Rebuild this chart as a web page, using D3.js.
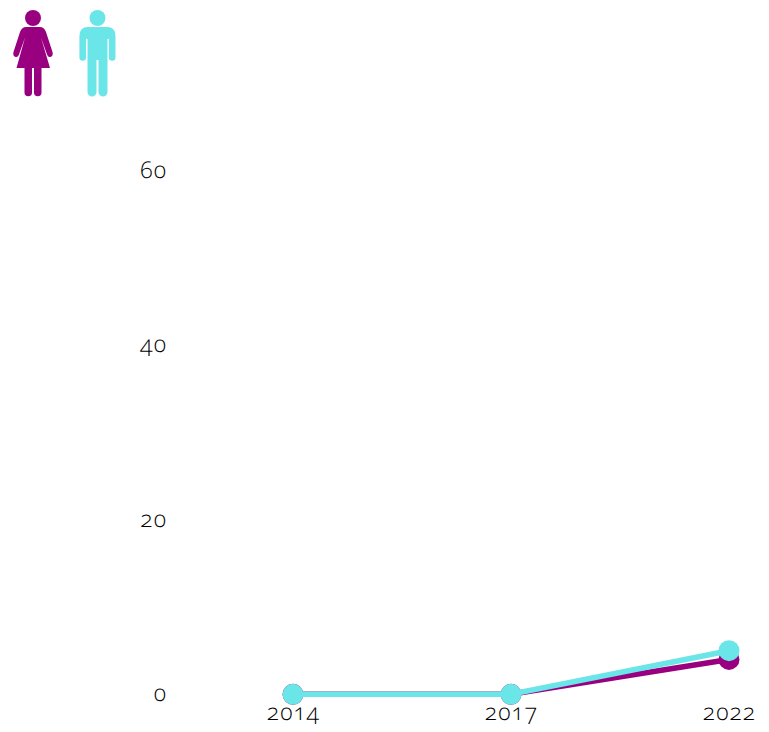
<!DOCTYPE html>
<html><head><meta charset="utf-8">
<script src="https://cdn.jsdelivr.net/npm/d3@7/dist/d3.min.js"></script>
<style>html,body{margin:0;background:#fff}svg{display:block}
text{font-family:"Open Sans",Lato,sans-serif;font-size:23px;fill:#000;font-feature-settings:"onum" 1;font-variant-numeric:oldstyle-nums;font-weight:300;letter-spacing:1px;text-rendering:geometricPrecision}</style>
</head><body><svg width="769" height="732"></svg>
<script>
const years = ["2014","2017","2022"];
const women = [0,0,4];
const men = [0,0,5];
const yTicks = [0,20,40,60];
const pink = "#990080", cyan = "#6ae5e8";
const svg = d3.select("svg");
const x = d3.scalePoint().domain(years).range([293,729]);
const y = d3.scaleLinear().domain([0,60]).range([694.3,171]);
const yAxis = svg.append("g").attr("transform","translate(167,-1)")
  .call(d3.axisLeft(y).tickValues(yTicks).tickSize(0).tickPadding(0));
yAxis.select(".domain").remove();
const xAxis = svg.append("g").attr("transform","translate(0,704)")
  .call(d3.axisBottom(x).tickSize(0).tickPadding(0));
xAxis.select(".domain").remove();
svg.selectAll("g text").style("font-size","23px").style("font-family",null);
const line = d3.line().x((d,i)=>x(years[i])).y(d=>y(d));
[[women,pink],[men,cyan]].forEach(([vals,c])=>{
  svg.append("path").attr("d",line(vals)).attr("fill","none").attr("stroke",c).attr("stroke-width",5.5);
  svg.selectAll(null).data(vals).enter().append("circle")
    .attr("cx",(d,i)=>x(years[i])).attr("cy",d=>y(d)).attr("r",10.5).attr("fill",c);
});
// legend icons
const woman = svg.append("g").attr("fill",pink);
woman.append("circle").attr("cx",33).attr("cy",18).attr("r",8);
woman.append("path").attr("d","M26,27 H40 Q44,27 46,32 L52.5,52 Q53.5,56 50.5,57 Q48,57.5 47,54.5 L41,37.5 L50,68 H41.5 V92.5 a3.7,3.7 0 0 1 -7.5,0 V68 H32 V92.5 a3.7,3.7 0 0 1 -7.5,0 V68 H16.5 L25,37.5 L19,54.5 Q18,57.5 15.5,57 Q12.5,56 13.5,52 L20,32 Q22,27 26,27 Z");
const man = svg.append("g").attr("fill",cyan);
man.append("circle").attr("cx",97.5).attr("cy",18).attr("r",8);
man.append("path").attr("d","M88,27 H107 Q115.5,27 115.5,36 V57.5 a3.2,3.2 0 0 1 -6.6,0 V39 H107.5 V92 a4.5,4.5 0 0 1 -9,0 V60 H96.5 V92 a4.5,4.5 0 0 1 -9,0 V39 H86 V57.5 a3.2,3.2 0 0 1 -6.6,0 V36 Q79.5,27 88,27 Z");
</script></body></html>
